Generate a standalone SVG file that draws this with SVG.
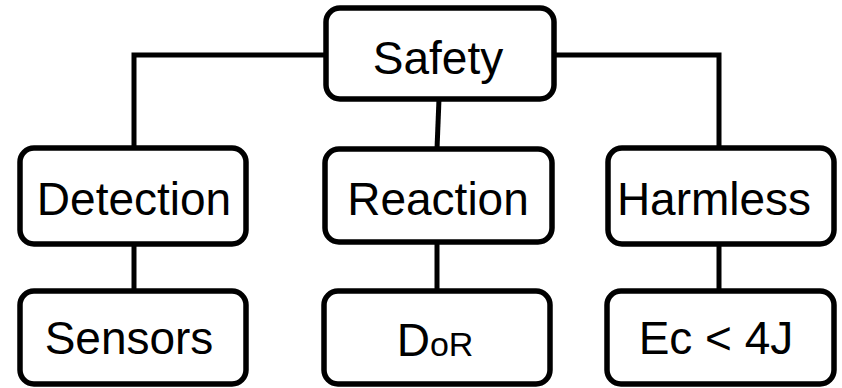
<svg xmlns="http://www.w3.org/2000/svg" width="842" height="388" viewBox="0 0 842 388">
<style>
.box{fill:#fff;stroke:#000;stroke-width:5.5}
.lbl{font-family:"Liberation Sans",Arial,sans-serif;font-size:46px;fill:#000;text-anchor:middle}
.con{fill:none;stroke:#000;stroke-width:5;stroke-linejoin:miter}
</style>
<rect width="842" height="388" fill="#fff"/>
<g id="connectors">
<path class="con" d="M326 55 H134 V148"/>
<path class="con" d="M554 55 H719 V148"/>
<path class="con" d="M439 99 L437 149"/>
<path class="con" d="M134 244 V291"/>
<path class="con" d="M437 242 V291"/>
<path class="con" d="M719 244 V291"/>
</g>
<g id="safety"><rect class="box" x="326" y="8" width="228" height="91" rx="14"/><text class="lbl" x="438" y="74">Safety</text></g>
<g id="detection"><rect class="box" x="20" y="148" width="226" height="96" rx="14"/><text class="lbl" x="134" y="215">Detection</text></g>
<g id="reaction"><rect class="box" x="325" y="149" width="227" height="93" rx="14"/><text class="lbl" x="438" y="215">Reaction</text></g>
<g id="harmless"><rect class="box" x="608" y="148" width="226" height="96" rx="14"/><text class="lbl" x="714" y="215">Harmless</text></g>
<g id="sensors"><rect class="box" x="20" y="291" width="226" height="93" rx="14"/><text class="lbl" x="129" y="354">Sensors</text></g>
<g id="dor"><rect class="box" x="324" y="291" width="226" height="93" rx="14"/><text class="lbl" x="435" y="356">D<tspan font-size="34">oR</tspan></text></g>
<g id="energy"><rect class="box" x="607" y="291" width="227" height="93" rx="14"/><text class="lbl" x="716" y="354">Ec &lt; 4J</text></g>
</svg>
